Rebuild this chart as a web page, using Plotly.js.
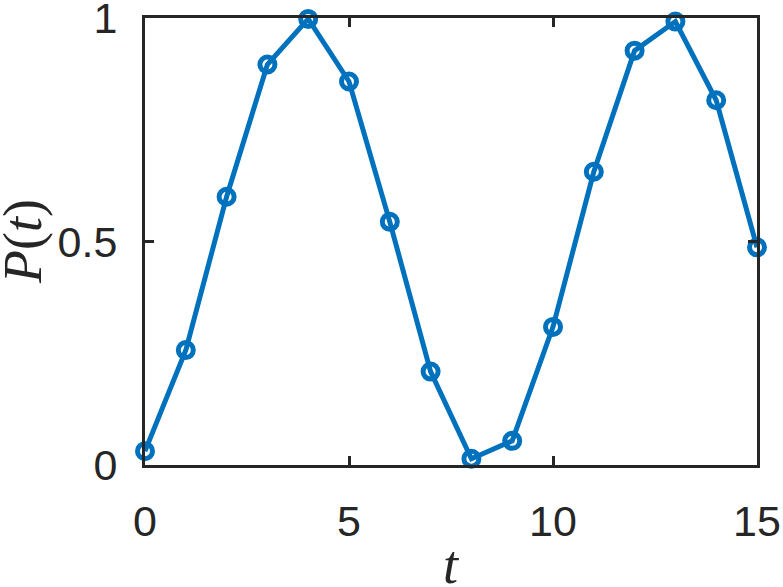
<!DOCTYPE html>
<html>
<head>
<meta charset="utf-8">
<script src="https://cdn.plot.ly/plotly-3.0.1.min.js"></script>
<style>
  html, body { margin: 0; padding: 0; background: #fff; }
  #chart { width: 783px; height: 587px; }
</style>
</head>
<body>
<div id="chart"></div>
<script>
// time steps and the probability
var tValues = [0, 1, 2, 3, 4, 5, 6, 7, 8, 9, 10, 11, 12, 13, 14, 15];
var pValues = [0.031, 0.257, 0.600, 0.896, 0.998, 0.858, 0.544, 0.209,
               0.014, 0.054, 0.309, 0.656, 0.927, 0.992, 0.816, 0.487];

var xTicks = [0, 5, 10, 15];
var yTicks = [0, 0.5, 1];
var yTickText = ["0", "0.5", "1"];

var axisColor = "#262626";
var lineColor = "#0072BD";

var trace = {
  x: tValues,
  y: pValues,
  mode: "lines+markers",
  cliponaxis: false,
  line: { color: lineColor, width: 5 },
  marker: {
    symbol: "circle-open",
    size: 15,
    color: lineColor,
    line: { color: lineColor, width: 5 }
  },
  hoverinfo: "skip"
};

var axisBase = {
  showline: true,
  mirror: "ticks",
  linecolor: axisColor,
  linewidth: 3,
  ticks: "inside",
  ticklen: 9,
  tickwidth: 3,
  tickcolor: axisColor,
  showgrid: false,
  zeroline: false,
  ticklabeloverflow: "allow",
  tickfont: { family: "Liberation Sans, Arial, sans-serif", size: 43, color: axisColor }
};

var titleFont = { family: "Liberation Serif, Times New Roman, serif", size: 54, color: axisColor };

// axis titles placed as paper annotations so they sit where the original has them
var annotations = [
  { text: "<i>t</i>", xref: "paper", yref: "paper", x: 0.5, y: -0.224,
    xanchor: "center", yanchor: "middle", showarrow: false, font: titleFont },
  { text: "<i>P</i>(<i>t</i>)", xref: "paper", yref: "paper", x: -0.2, y: 0.5,
    xanchor: "center", yanchor: "middle", textangle: -90, showarrow: false, font: titleFont }
];

var layout = {
  width: 783,
  height: 587,
  margin: { l: 145, r: 26, t: 18, b: 122 },
  paper_bgcolor: "#fff",
  plot_bgcolor: "#fff",
  showlegend: false,
  annotations: annotations,
  xaxis: Object.assign({}, axisBase, {
    range: [0, 15],
    tickvals: xTicks,
    ticktext: xTicks.map(String),
    ticklabelstandoff: 16
  }),
  yaxis: Object.assign({}, axisBase, {
    range: [0, 1],
    tickvals: yTicks,
    ticktext: yTickText,
    ticklabelstandoff: 16
  })
};

Plotly.newPlot("chart", [trace], layout, { displayModeBar: false, staticPlot: true });
</script>
</body>
</html>
